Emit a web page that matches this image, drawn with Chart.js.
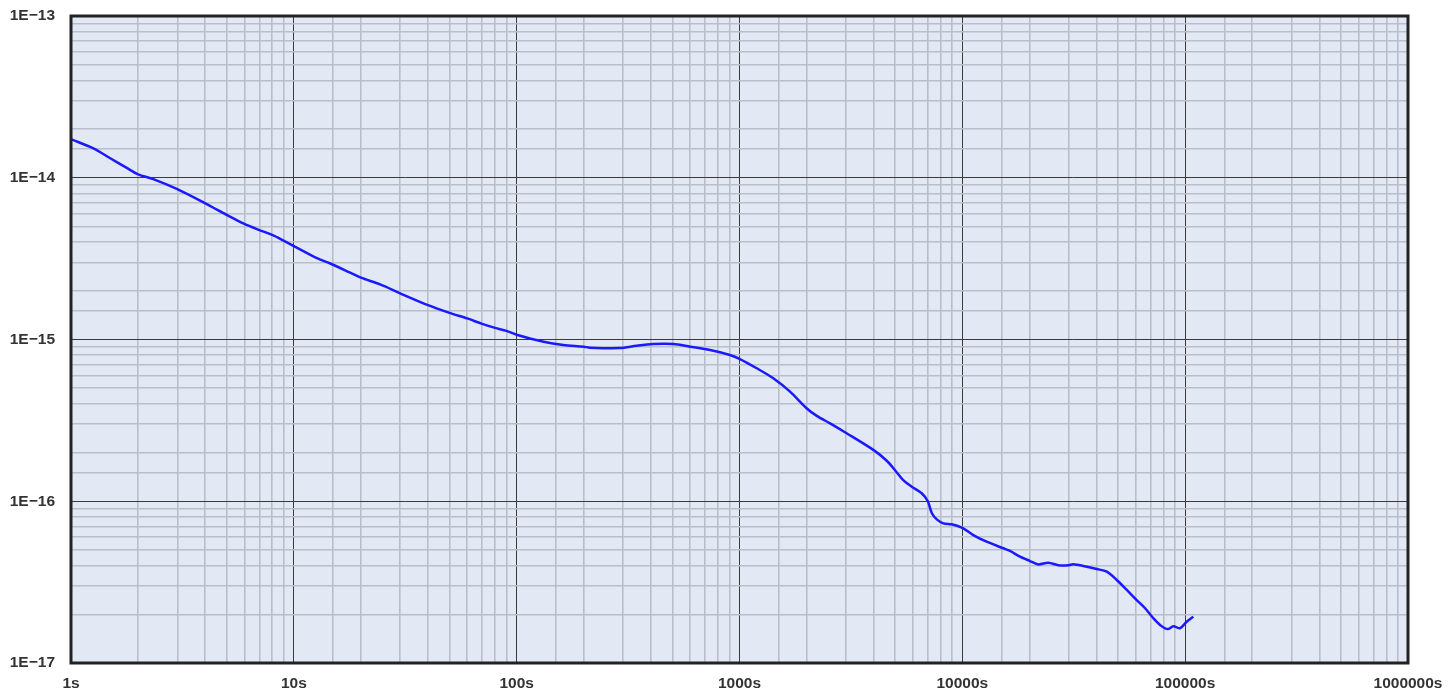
<!DOCTYPE html>
<html>
<head>
<meta charset="utf-8">
<title>Allan deviation</title>
<script src="https://cdn.jsdelivr.net/npm/chart.js@4.4.1/dist/chart.umd.min.js"></script>
<style>
  html, body { margin: 0; padding: 0; background: #ffffff; }
  canvas { display: block; }
</style>
</head>
<body>
<canvas id="adevChart" width="1453" height="691"></canvas>
<script>
// averaging time (s) and deviation
const tauSeconds = [1, 1.26, 1.5, 1.78, 2, 2.34, 3, 4, 5, 6, 7, 8, 9, 10, 12.7, 14.5, 17.9, 20, 24.4, 30, 40, 50, 60, 70, 80, 90, 100, 132, 162, 200, 213, 290, 346, 410, 505, 600, 738, 906, 1000, 1195, 1418, 1686, 2000, 2222, 2550, 3000, 4000, 4580, 5000, 5430, 5930, 6570, 7000, 7300, 7680, 8220, 8960, 10000, 11200, 12850, 15270, 16370, 18150, 20130, 21940, 24320, 26970, 29900, 31500, 34900, 40100, 44500, 49300, 54700, 60600, 66100, 72000, 77100, 83500, 88500, 94800, 101600, 108800];
const deviation = [1.73e-14, 1.52e-14, 1.32e-14, 1.15e-14, 1.05e-14, 9.8e-15, 8.5e-15, 6.95e-15, 5.9e-15, 5.18e-15, 4.75e-15, 4.43e-15, 4.08e-15, 3.78e-15, 3.18e-15, 2.96e-15, 2.59e-15, 2.41e-15, 2.19e-15, 1.93e-15, 1.63e-15, 1.46e-15, 1.35e-15, 1.25e-15, 1.18e-15, 1.13e-15, 1.07e-15, 9.69e-16, 9.25e-16, 9.03e-16, 8.9e-16, 8.85e-16, 9.16e-16, 9.38e-16, 9.38e-16, 9.03e-16, 8.61e-16, 8.02e-16, 7.6e-16, 6.64e-16, 5.76e-16, 4.76e-16, 3.76e-16, 3.37e-16, 3.03e-16, 2.65e-16, 2.07e-16, 1.78e-16, 1.55e-16, 1.35e-16, 1.23e-16, 1.12e-16, 1.0e-16, 8.43e-17, 7.73e-17, 7.3e-17, 7.2e-17, 6.85e-17, 6.18e-17, 5.62e-17, 5.12e-17, 4.93e-17, 4.54e-17, 4.27e-17, 4.07e-17, 4.17e-17, 4.02e-17, 4.02e-17, 4.08e-17, 3.98e-17, 3.81e-17, 3.67e-17, 3.26e-17, 2.83e-17, 2.45e-17, 2.18e-17, 1.89e-17, 1.72e-17, 1.62e-17, 1.69e-17, 1.64e-17, 1.80e-17, 1.93e-17];

// axis ranges
const xRange = [1, 1e6];
const yRange = [1e-17, 1e-13];

function isDecade(v) {
  const l = Math.log10(v);
  return Math.abs(l - Math.round(l)) < 1e-6;
}

const gridColor = (ctx) => (ctx.tick && isDecade(ctx.tick.value) ? '#3a3a3a' : '#b9bec9');
const gridWidth = (ctx) => (ctx.tick && isDecade(ctx.tick.value) ? 1 : 1.6);

// plot background + frame
const plotFrame = {
  id: 'plotFrame',
  beforeDraw(chart) {
    const a = chart.chartArea;
    const c = chart.ctx;
    c.save();
    c.fillStyle = '#e3e8f5';
    c.fillRect(a.left, a.top, a.right - a.left, a.bottom - a.top);
    c.restore();
  },
  afterDraw(chart) {
    const a = chart.chartArea;
    const c = chart.ctx;
    c.save();
    c.strokeStyle = '#222222';
    c.lineWidth = 3;
    c.strokeRect(a.left, a.top, a.right - a.left, a.bottom - a.top);
    c.restore();
  }
};

const tickFont = { family: '"Liberation Sans", Arial, sans-serif', size: 15.5, weight: 'bold' };

new Chart(document.getElementById('adevChart'), {
  type: 'line',
  data: {
    datasets: [{
      data: tauSeconds.map((t, i) => ({ x: t, y: deviation[i] })),
      borderColor: '#1a1aff',
      borderWidth: 2.5,
      pointRadius: 0,
      tension: 0.3,
      fill: false
    }]
  },
  options: {
    responsive: false,
    animation: false,
    devicePixelRatio: 1,
    layout: { padding: { top: 16, right: 45, left: 0, bottom: 0 } },
    plugins: { legend: { display: false }, tooltip: { enabled: false } },
    scales: {
      x: {
        type: 'logarithmic',
        min: xRange[0],
        max: xRange[1],
        grid: { color: gridColor, lineWidth: gridWidth, drawTicks: false },
        border: { display: false },
        ticks: {
          autoSkip: false,
          maxRotation: 0,
          padding: 11,
          color: '#333333',
          font: tickFont,
          callback: (v) => (isDecade(v) ? Math.round(v) + 's' : '')
        },
        afterFit: (scale) => {
          scale.height = 28;
          scale.paddingLeft = 0;
          scale.paddingRight = 0;
        }
      },
      y: {
        type: 'logarithmic',
        min: yRange[0],
        max: yRange[1],
        grid: { color: gridColor, lineWidth: gridWidth, drawTicks: false },
        border: { display: false },
        ticks: {
          autoSkip: false,
          padding: 16,
          color: '#333333',
          font: tickFont,
          callback: (v) => (isDecade(v) ? '1E\u2212' + Math.abs(Math.round(Math.log10(v))) : '')
        },
        afterFit: (scale) => {
          scale.width = 71;
          scale.paddingTop = 0;
          scale.paddingBottom = 0;
        }
      }
    }
  },
  plugins: [plotFrame]
});
</script>
</body>
</html>
